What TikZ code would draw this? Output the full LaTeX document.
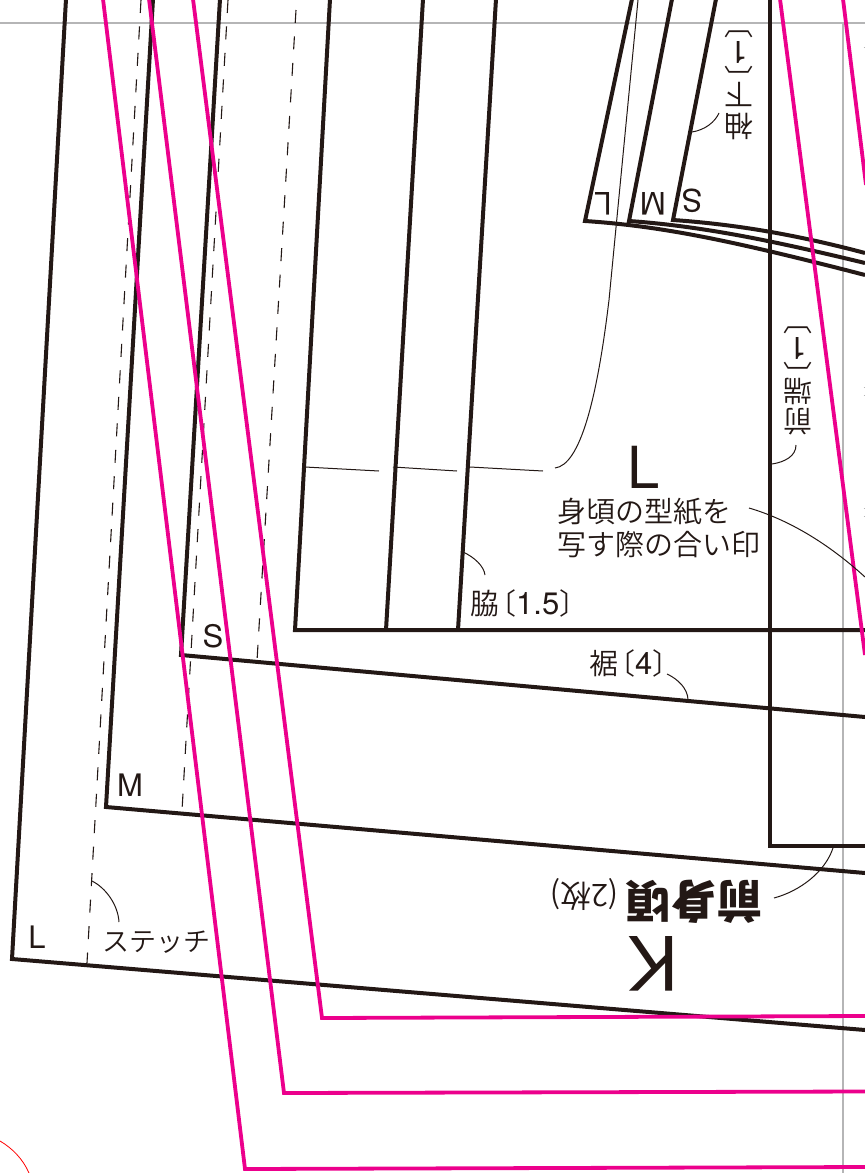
\documentclass[tikz,border=0pt]{standalone}
\usepackage{fontspec}
\setmainfont{TeX Gyre Heros}
\newfontfamily\cjk{Noto Sans CJK JP DemiLight}
\newfontfamily\cjkblack{Noto Sans CJK JP Black}
\definecolor{patblack}{HTML}{231815}
\definecolor{patpink}{HTML}{EC008C}
\definecolor{patgray}{HTML}{B5B5B6}
\newcommand{\tkL}{\hspace{-12pt}〔}
\newcommand{\tkR}{〕}
\newcommand{\tkNum}[1]{{\rmfamily\fontsize{31}{31}\selectfont #1}}
\setlength{\lineskiplimit}{-100pt}
\tikzset{
  cutline/.style={draw=patblack,line width=4pt,line join=miter},
  pinkline/.style={draw=patpink,line width=3.8pt,line join=miter},
  thinline/.style={draw=patblack,line width=1pt},
  stitch/.style={draw=patblack,line width=1.1pt,dash pattern=on 13pt off 13.5pt},
  guide/.style={draw=patgray,line width=2.6pt},
  sizelab/.style={font=\fontsize{31}{31}\selectfont,text=patblack,inner sep=0pt},
  notelab/.style={font=\cjk\fontsize{29}{33}\selectfont,text=patblack,inner sep=0pt},
  vertlab/.style={font=\cjk\fontsize{29}{29}\selectfont,text=patblack,inner sep=0pt,align=center,rotate=180}
}
\begin{document}
\begin{tikzpicture}[x=1pt,y=-1pt]
\useasboundingbox (0,0) rectangle (865,1173);
\begin{scope}
\clip (0,0) rectangle (865,1173);
% guides
\draw[guide] (0,23) -- (865,23);
\draw[guide] (843,23) -- (843,1173);
\draw[draw=red,line width=0.8pt] (0,1141) .. controls (12,1148) and (23,1159) .. (29,1173);
% stitch lines
\draw[stitch] (141,0) -- (87,963);
\draw[stitch] (228,0) -- (182,811);
\draw[stitch] (296,10) -- (257,661);
% front hem, sizes
\draw[cutline] (66,-1) -- (12,959) -- (865,1030);
\draw[cutline] (153,-1) -- (106,807) -- (865,873);
\draw[cutline] (220,-1) -- (181,655) -- (865,717);
% body
\draw[cutline] (330,-1) -- (295,630) -- (865,630);
\draw[cutline] (423,-1) -- (386,630);
\draw[cutline] (496,-1) -- (458,630);
\draw[cutline] (770,-1) -- (770,846) -- (865,846);
% sleeve
\draw[cutline] (632,-1) -- (585,221) .. controls (660,226) and (730,240) .. (865,275);
\draw[cutline] (672,-1) -- (629,221) .. controls (700,226) and (770,240) .. (865,263);
\draw[cutline] (716,-1) -- (673,220) .. controls (730,224) and (790,233) .. (865,253);
% match line
\draw[thinline] (638,0) -- (609,300) .. controls (597,400) and (580,465) .. (555,468);
\draw[thinline] (305,467) -- (379,471);
\draw[thinline] (393,467) -- (457,471);
\draw[thinline] (470,467) -- (543,471);
% pink layout
\draw[pinkline] (103,-1) -- (245,1169) -- (866,1167);
\draw[pinkline] (149,-1) -- (284,1093) -- (866,1091.5);
\draw[pinkline] (193,-1) -- (322,1018) -- (866,1016);
\draw[pinkline] (780,-1) -- (865,655);
\draw[pinkline] (843,-1) -- (866,185);
% leaders
\draw[thinline] (692,132) .. controls (705,130) and (715,122) .. (719,113);
\draw[thinline] (772,464) .. controls (785,462) and (796,456) .. (796,445);
\draw[thinline] (463,552) .. controls (474,557) and (484,566) .. (485,575);
\draw[thinline] (667,674) .. controls (678,679) and (688,689) .. (688,700);
\draw[thinline] (833,848) .. controls (825,872) and (800,891) .. (774,898);
\draw[thinline] (92,881) .. controls (106,888) and (118,905) .. (119,922);
\draw[thinline] (749,508) .. controls (790,520) and (830,545) .. (865,577);
% clipped marks at the edge
\draw[draw=patgray,line width=1pt] (863.5,47) -- (865,47) (863.5,387) -- (865,387) (863.5,395) -- (865,395) (863.5,508) -- (865,508) (863.5,516) -- (865,516);
\end{scope}
% size letters
\node[sizelab] (labS) at (213,636) {S};
\node[sizelab] (labM) at (130,785) {M};
\node[sizelab] (labL) at (37,937) {L};
\node[sizelab,rotate=180] (slvL) at (603,204) {L};
\node[sizelab,rotate=180] (slvM) at (653,204) {M};
\node[sizelab,rotate=180] (slvS) at (692,201) {S};
\node[sizelab,font=\fontsize{58}{58}\selectfont] (bigL) at (644,467) {L};
\node[sizelab,font=\fontsize{75}{75}\selectfont,rotate=180] (bigK) at (653,964) {K};
% notes
\node[notelab,anchor=west,align=left] (match) at (557,528) {身頃の型紙を\\写す際の合い印};
\node[notelab,anchor=west] (side) at (470,603) {脇\tkL\tkNum{1.5}\tkR};
\node[notelab,anchor=west] (hem) at (589,663) {裾\tkL\tkNum{4}\tkR};
\node[notelab,anchor=west,font=\cjk\fontsize{27}{27}\selectfont] (stitchlab) at (102,942) {ステッチ};
\node[notelab,rotate=180,anchor=east] (front) at (550,901) {{\cjkblack\fontsize{45.5}{45.5}\selectfont 前身頃}\hspace{7pt}\fontsize{31}{31}\selectfont (2枚)};
\node[vertlab] (under) at (739,77) {袖\\[2pt]下\\[-13pt]︹\\[-2pt]\tkNum{1}\\[-1pt]︺};
\node[vertlab] (edge) at (798,372) {前\\[1pt]端\\[-13pt]︹\\[-2pt]\tkNum{1}\\[-1pt]︺};
\end{tikzpicture}
\end{document}
